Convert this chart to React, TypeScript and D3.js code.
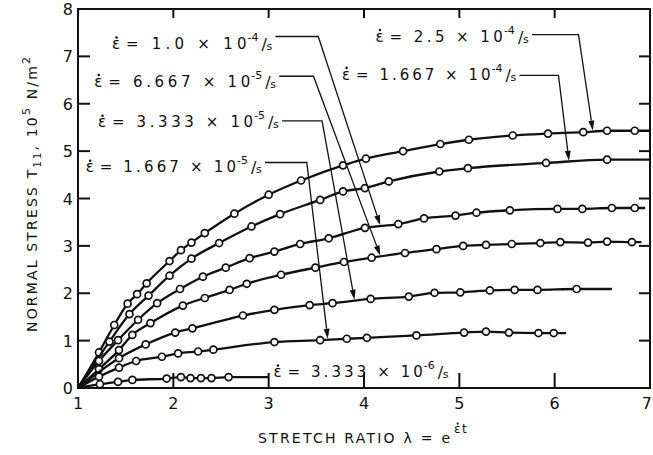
import React from "react";
import * as d3 from "d3";

const lambdaTicks = [1, 2, 3, 4, 5, 6, 7];
const stressTicks = [0, 1, 2, 3, 4, 5, 6, 7, 8];

// measured points [lambda, T11 (1e5 N/m^2)], one array per strain rate
const rate2500e7: [number, number][] = [
  [1.22, 0.75], [1.38, 1.33], [1.52, 1.78], [1.62, 1.98], [1.72, 2.21], [1.96, 2.68],
  [2.08, 2.91], [2.19, 3.07], [2.33, 3.27], [2.64, 3.68], [3.0, 4.08], [3.34, 4.38],
  [3.78, 4.7], [4.02, 4.84], [4.41, 5.0], [4.8, 5.15], [5.1, 5.24], [5.56, 5.33],
  [5.93, 5.37], [6.3, 5.4], [6.55, 5.43], [6.84, 5.43],
];
const rate1667e7: [number, number][] = [
  [1.33, 0.98], [1.54, 1.56], [1.74, 1.95], [1.96, 2.37], [2.19, 2.73], [2.48, 3.06],
  [2.82, 3.41], [3.12, 3.67], [3.54, 3.97], [3.78, 4.15], [4.01, 4.22], [4.26, 4.36],
  [4.79, 4.57], [5.09, 4.64], [5.91, 4.75], [6.55, 4.82],
];
const rate1000e7: [number, number][] = [
  [1.22, 0.57], [1.42, 1.01], [1.63, 1.44], [1.83, 1.79], [2.07, 2.09], [2.31, 2.35],
  [2.55, 2.54], [2.8, 2.74], [3.06, 2.88], [3.33, 3.04], [3.63, 3.16], [4.01, 3.38],
  [4.36, 3.46], [4.63, 3.58], [4.96, 3.64], [5.18, 3.7], [5.53, 3.75], [6.03, 3.78],
  [6.29, 3.78], [6.6, 3.8], [6.84, 3.8],
];
const rate667e7: [number, number][] = [
  [1.22, 0.4], [1.43, 0.8], [1.57, 1.12], [1.76, 1.37], [2.1, 1.74], [2.33, 1.9],
  [2.59, 2.07], [2.77, 2.2], [3.13, 2.39], [3.49, 2.54], [3.79, 2.66], [4.08, 2.75],
  [4.43, 2.85], [4.76, 2.93], [5.04, 3.0], [5.28, 3.02], [5.55, 3.04], [5.85, 3.06],
  [6.06, 3.08], [6.35, 3.07], [6.55, 3.09], [6.81, 3.08],
];
const rate333e7: [number, number][] = [
  [1.43, 0.63], [1.71, 0.92], [2.02, 1.17], [2.2, 1.26], [2.73, 1.53], [3.06, 1.65],
  [3.43, 1.75], [3.67, 1.79], [4.07, 1.88], [4.47, 1.93], [4.74, 2.01], [5.01, 2.02],
  [5.32, 2.06], [5.58, 2.07], [5.82, 2.07], [6.23, 2.09],
];
const rate167e7: [number, number][] = [
  [1.22, 0.24], [1.43, 0.43], [1.61, 0.57], [1.88, 0.66], [2.05, 0.73], [2.26, 0.77],
  [2.42, 0.81], [3.06, 0.97], [3.54, 1.01], [3.82, 1.04], [4.03, 1.06], [4.55, 1.11],
  [5.05, 1.17], [5.28, 1.19], [5.52, 1.17], [5.83, 1.16], [5.99, 1.16],
];
const rate33e7: [number, number][] = [
  [1.23, 0.08], [1.42, 0.13], [1.57, 0.17], [1.93, 0.2], [2.08, 0.23], [2.18, 0.21],
  [2.29, 0.21], [2.4, 0.21], [2.58, 0.23],
];

const series = [rate2500e7, rate1667e7, rate1000e7, rate667e7, rate333e7, rate167e7, rate33e7];
// where each drawn line stops (lambda)
const seriesEnd = [7.0, 7.0, 6.95, 6.91, 6.6, 6.12, 3.0];

// annotation labels, same order as series
const labelMantissa = ["2.5", "1.667", "1.0", "6.667", "3.333", "1.667", "3.333"];
const labelExponent = ["-4", "-4", "-4", "-5", "-5", "-5", "-6"];
const labelStart = [4.12, 3.77, 1.357, 1.17, 1.21, 1.08, 3.05];
const labelEnd = [5.74, 5.61, 3.05, 3.09, 3.12, 2.94, 4.9];
const labelBase = [7.31, 6.51, 7.15, 6.36, 5.5, 4.55, 0.23];
const leaderLevel = [7.46, 6.6, 7.42, 6.58, 5.64, 4.76, null];
const leaderCorner = [6.25, 6.04, 3.52, 3.47, 3.56, 3.4, null];
const arrowTip = [6.4, 6.15, 4.17, 4.17, 3.9, 3.62, null];

const width = 653;
const height = 455;
const x = d3.scaleLinear().domain([1, 7]).range([78, 650]);
const y = d3.scaleLinear().domain([0, 8]).range([388, 9]);
const font = "'DejaVu Sans', 'Liberation Sans', sans-serif";
const ink = "#111";

function stressAt(pts: [number, number][], lam: number) {
  const all: [number, number][] = [[1, 0], ...pts];
  for (let i = 1; i < all.length; i++) {
    if (lam <= all[i][0]) {
      const [x0, y0] = all[i - 1];
      const [x1, y1] = all[i];
      return y0 + ((lam - x0) / (x1 - x0)) * (y1 - y0);
    }
  }
  return all[all.length - 1][1];
}

const line = d3
  .line<[number, number]>()
  .x((d) => x(d[0]))
  .y((d) => y(d[1]))
  .curve(d3.curveMonotoneX);

// epsilon with a dot over it
const EpsDot = ({ px, py, size }: { px: number; py: number; size: number }) => (
  <g>
    <text x={px} y={py} fontSize={size} fill={ink}>ε</text>
    <circle cx={px + size * 0.3} cy={py - size * 0.78} r={size * 0.085} fill={ink} />
  </g>
);

const App = () => {
  return (
    <svg
      width={width}
      height={height}
      style={{ position: "absolute", left: 0, top: 0, background: "#fff" }}
      fontFamily={font}
    >
      {/* frame */}
      <rect x={x(1)} y={y(8)} width={x(7) - x(1)} height={y(0) - y(8)} fill="none" stroke={ink} strokeWidth={2} />
      {stressTicks.slice(1, -1).map((t) => (
        <g key={"yt" + t}>
          <line x1={x(1)} x2={x(1) + 12} y1={y(t)} y2={y(t)} stroke={ink} strokeWidth={2} />
          <line x1={x(7) - 11} x2={x(7)} y1={y(t)} y2={y(t)} stroke={ink} strokeWidth={2} />
        </g>
      ))}
      {stressTicks.map((t) => (
        <text key={"yl" + t} x={x(1) - 5} y={y(t) + 6} textAnchor="end" fontSize={16} fill={ink}>
          {t}
        </text>
      ))}
      {lambdaTicks.slice(1, -1).map((t) => (
        <g key={"xt" + t}>
          <line x1={x(t)} x2={x(t)} y1={y(0)} y2={y(0) - 15} stroke={ink} strokeWidth={2} />
          <line x1={x(t)} x2={x(t)} y1={y(8)} y2={y(8) + 9} stroke={ink} strokeWidth={2} />
        </g>
      ))}
      {lambdaTicks.map((t, i) => {
        const isLast = i === lambdaTicks.length - 1;
        return (
          <text
            key={"xl" + t}
            x={isLast ? width - 1 : x(t)}
            y={409}
            textAnchor={isLast ? "end" : "middle"}
            fontSize={16}
            fill={ink}
          >
            {t}
          </text>
        );
      })}

      {/* axis titles */}
      <text x={258} y={443} fontSize={14} fill={ink} textLength={192} lengthAdjust="spacing">
        STRETCH RATIO λ = e
      </text>
      <EpsDot px={454} py={433} size={12} />
      <text x={462} y={433} fontSize={12} fill={ink}>t</text>
      <text
        transform="translate(37,332) rotate(-90)"
        fontSize={14}
        fill={ink}
        textLength={275}
        lengthAdjust="spacing"
      >
        NORMAL STRESS T
        <tspan dy={4} fontSize={10}>11</tspan>
        <tspan dy={-4}>, 10</tspan>
        <tspan dy={-7} fontSize={11}>5</tspan>
        <tspan dy={7}> N/m</tspan>
        <tspan dy={-7} fontSize={11}>2</tspan>
      </text>

      {/* curves */}
      {series.map((pts, i) => {
        const last = pts[pts.length - 1];
        const path: [number, number][] = [[1, 0], ...pts, [seriesEnd[i], last[1]]];
        return (
          <g key={"s" + i}>
            <path d={line(path) || ""} fill="none" stroke={ink} strokeWidth={2.3} />
            {pts.map((p, j) => (
              <circle key={j} cx={x(p[0])} cy={y(p[1])} r={3.5} fill="#fff" stroke={ink} strokeWidth={1.7} />
            ))}
          </g>
        );
      })}

      {/* labels and leaders */}
      {labelMantissa.map((m, i) => {
        const x0 = x(labelStart[i]);
        const x1 = x(labelEnd[i]);
        const yb = y(labelBase[i]);
        const tail = x1 - 27;
        const lev = leaderLevel[i];
        let leader = null;
        if (lev !== null) {
          const ly = y(lev);
          const cx = x(leaderCorner[i] as number);
          const tl = arrowTip[i] as number;
          const tx = x(tl);
          const ty = y(stressAt(series[i], tl)) - 1;
          const ang = Math.atan2(ty - ly, tx - cx);
          const L = 10;
          const w = 3;
          const bx = tx - L * Math.cos(ang);
          const by = ty - L * Math.sin(ang);
          const head = [
            [tx, ty],
            [bx - w * Math.sin(ang), by + w * Math.cos(ang)],
            [bx + w * Math.sin(ang), by - w * Math.cos(ang)],
          ];
          leader = (
            <g>
              <polyline
                points={`${x1 + 2},${ly} ${cx},${ly} ${bx},${by}`}
                fill="none"
                stroke={ink}
                strokeWidth={1.3}
              />
              <polygon points={head.map((p) => p.join(",")).join(" ")} fill={ink} />
            </g>
          );
        }
        return (
          <g key={"lab" + i}>
            <EpsDot px={x0} py={yb} size={15} />
            <text x={x0 + 14} y={yb} fontSize={15} fill={ink} textLength={tail - x0 - 14} lengthAdjust="spacing">
              {"= " + m + " × 10"}
            </text>
            <text x={tail + 1} y={yb - 8} fontSize={11} fill={ink}>{labelExponent[i]}</text>
            <text x={tail + 15} y={yb + 1} fontSize={16} fill={ink}>/</text>
            <text x={tail + 20} y={yb + 1} fontSize={11} fill={ink}>s</text>
            {leader}
          </g>
        );
      })}
    </svg>
  );
};

export default App;
